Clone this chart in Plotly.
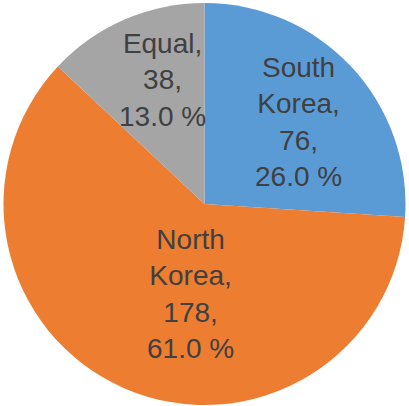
import plotly.graph_objects as go

labels = ["South Korea", "North Korea", "Equal"]
label_lines = ["South<br>Korea,", "North<br>Korea,", "Equal,"]
values = [76, 178, 38]
colors = ["#5B9BD5", "#ED7D31", "#A5A5A5"]

W, H = 409, 406
# label block centres in pixels (layout)
label_pos = [(298, 122), (190, 294), (162, 80)]

total = sum(values)
fig = go.Figure(go.Pie(
    labels=labels, values=values, sort=False, direction="clockwise", rotation=0,
    marker=dict(colors=colors, line=dict(width=0)),
    textinfo="none", hoverinfo="label+value+percent", showlegend=False,
    domain=dict(x=[3.5 / W, 405.5 / W], y=[1 - 405 / H, 1 - 3 / H]),
))

for lines, v, (px, py) in zip(label_lines, values, label_pos):
    fig.add_annotation(
        x=px / W, y=1 - py / H, xref="paper", yref="paper",
        text=f"{lines}<br>{v},<br>{100 * v / total:.1f} %",
        showarrow=False, xanchor="center", yanchor="middle", align="center",
        font=dict(family="Liberation Sans, Arial, sans-serif", size=28, color="#404040"),
    )

fig.update_layout(
    width=W, height=H, margin=dict(l=0, r=0, t=0, b=0),
    paper_bgcolor="white", plot_bgcolor="white",
)
fig.write_html(
    "out.html",
    config={"displayModeBar": False},
    post_script="document.body.style.margin='0';document.body.style.overflow='hidden';",
)
